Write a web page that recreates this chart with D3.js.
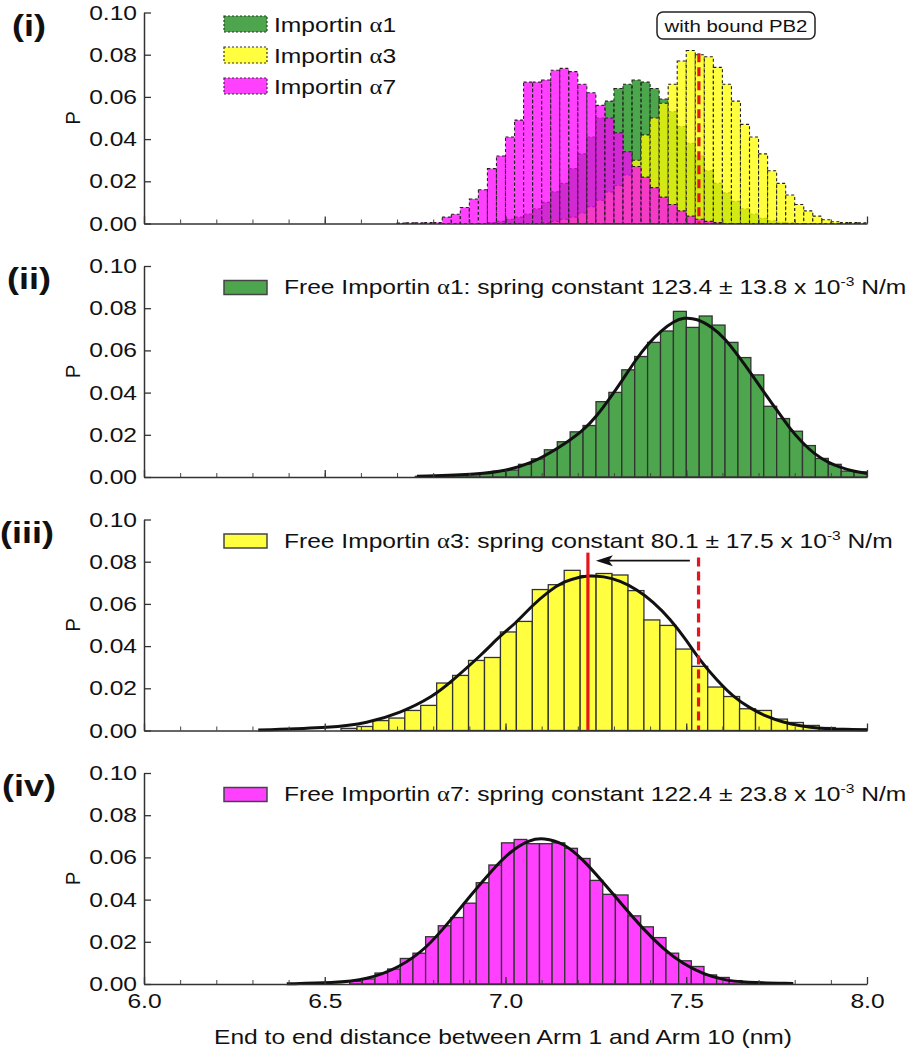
<!DOCTYPE html>
<html>
<head>
<meta charset="utf-8">
<script src="https://cdn.jsdelivr.net/npm/d3@7"></script>
<style>
  body { margin: 0; background: #fff; }
  text { font-family: "Liberation Sans", Arial, sans-serif; fill: #111; }
</style>
</head>
<body>
<div id="chart"></div>
<script>
// --------------------------------------
//  Data
// --------------------------------------

const xTicks = [6.0, 6.5, 7.0, 7.5, 8.0];
const yTicks = [0, 0.02, 0.04, 0.06, 0.08, 0.10];
const panelLabels = ["(i)", "(ii)", "(iii)", "(iv)"];
const isoforms = ["1", "3", "7"];
const springK = ["123.4", "80.1", "122.4"];
const springErr = ["13.8", "17.5", "23.8"];

// panel (i): importins with bound PB2, bins of 0.025 nm from 6.70
const boundStart = 6.70, boundWidth = 0.025;
const boundA1 = [0, 0, 0, 0, 0, 0, 0, 0, 0, 0,
  0.0005, 0.001, 0.002, 0.003, 0.0045, 0.007, 0.010, 0.015, 0.019, 0.026,
  0.033, 0.041, 0.050, 0.058, 0.064, 0.066, 0.068, 0.067, 0.064, 0.059,
  0.053, 0.046, 0.038, 0.032, 0.025, 0.019, 0.0145, 0.0105, 0.007, 0.0045,
  0.0025, 0.0013, 0.0006, 0.0003, 0, 0, 0, 0, 0, 0, 0, 0];
const boundA3 = [0, 0, 0, 0, 0, 0, 0, 0, 0, 0,
  0, 0, 0, 0, 0, 0, 0.0005, 0.001, 0.002, 0.003,
  0.005, 0.008, 0.011, 0.015, 0.018, 0.023, 0.030, 0.042, 0.050, 0.057,
  0.066, 0.077, 0.082, 0.080, 0.079, 0.074, 0.066, 0.058, 0.047, 0.041,
  0.033, 0.025, 0.019, 0.0135, 0.009, 0.006, 0.0035, 0.0018, 0.0008, 0.0005,
  0.0004, 0.0003];
const boundA7 = [0.0002, 0.0003, 0.0003, 0.0004, 0.0005, 0.003, 0.0044, 0.0076, 0.0116, 0.016,
  0.026, 0.032, 0.041, 0.049, 0.067, 0.067, 0.068, 0.0726, 0.0735, 0.072,
  0.066, 0.062, 0.056, 0.050, 0.043, 0.034, 0.027, 0.022, 0.017, 0.0125,
  0.009, 0.006, 0.0035, 0.002, 0.001, 0.0005, 0, 0, 0, 0,
  0, 0, 0, 0, 0, 0, 0, 0, 0, 0, 0, 0];
const pb2Line = 7.535, pb2Top = 0.0807;

// panel (ii): free importin a1
const freeA1Start = 6.7505, freeA1Width = 0.0357;
const freeA1 = [0.0003, 0.0005, 0.0007, 0.0010, 0.0012,
  0.0017, 0.0027, 0.0033, 0.0060, 0.0086, 0.0129, 0.0167, 0.0214, 0.0244, 0.0357,
  0.0401, 0.0508, 0.0571, 0.0638, 0.0692, 0.0785, 0.0709, 0.0763, 0.0720, 0.0638,
  0.0566, 0.0484, 0.0335, 0.0277, 0.0217, 0.0149, 0.0088, 0.0060, 0.0028, 0.0024];
const fitA1 = [[6.755, 0.0003], [6.930, 0.0013], [7.003, 0.0031], [7.068, 0.0062], [7.146, 0.0135],
  [7.217, 0.0222], [7.252, 0.0288], [7.289, 0.0374], [7.324, 0.0460], [7.360, 0.0555],
  [7.395, 0.0633], [7.432, 0.0696], [7.467, 0.0739], [7.492, 0.0755], [7.529, 0.0752],
  [7.573, 0.0709], [7.607, 0.0657], [7.644, 0.0574], [7.679, 0.0492], [7.713, 0.0406],
  [7.750, 0.0319], [7.785, 0.0233], [7.821, 0.0162], [7.856, 0.0107], [7.893, 0.0068],
  [7.928, 0.0044], [7.962, 0.0028], [8.000, 0.0017]];

// panel (iii): free importin a3
const freeA3Start = 6.545, freeA3Width = 0.0441;
const freeA3 = [0.0010, 0.0019, 0.0047, 0.0059, 0.0095, 0.0119, 0.0225, 0.0261, 0.0332, 0.0346,
  0.0467, 0.0517, 0.0668, 0.0691, 0.0759, 0.0734, 0.0744, 0.0737, 0.0663, 0.0524,
  0.0498, 0.0386, 0.0304, 0.0206, 0.0161, 0.0103, 0.0095, 0.0054, 0.0038, 0.0024,
  0.0014, 0.0009, 0.0006];
const fitA3 = [[6.316, 0.0002], [6.524, 0.0013], [6.616, 0.0035], [6.708, 0.0082], [6.800, 0.0161],
  [6.851, 0.0233], [6.939, 0.0367], [6.983, 0.0446], [7.029, 0.0509], [7.072, 0.0589],
  [7.119, 0.0660], [7.162, 0.0707], [7.206, 0.0728], [7.229, 0.0734], [7.271, 0.0731],
  [7.317, 0.0710], [7.363, 0.0669], [7.409, 0.0610], [7.455, 0.0530], [7.501, 0.0427],
  [7.538, 0.0332], [7.584, 0.0240], [7.630, 0.0160], [7.676, 0.0106], [7.722, 0.0066],
  [7.769, 0.0038], [7.815, 0.0022], [7.870, 0.0010], [7.935, 0.0005], [8.000, 0.0003]];
const freeLine = 7.228, freeTop = 0.0843;
const boundLine = 7.534, boundTop = 0.082;
const shiftArrow = [7.51, 7.25], shiftArrowP = 0.0805;

// panel (iv): free importin a7
const freeA7Start = 6.569, freeA7Width = 0.0350;
const freeA7 = [0.0013, 0.0024, 0.0052, 0.0071, 0.0121, 0.0146, 0.0224, 0.0276, 0.0315, 0.0383,
  0.0480, 0.0564, 0.0669, 0.0685, 0.0665, 0.0665, 0.0669, 0.0643, 0.0595, 0.0491,
  0.0425, 0.0422, 0.0323, 0.0271, 0.0220, 0.0146, 0.0110, 0.0083, 0.0043, 0.0031,
  0.0016, 0.0008, 0.0005, 0.0004, 0.0003];
const fitA7 = [[6.395, 0.0001], [6.524, 0.0005], [6.616, 0.0020], [6.708, 0.0079], [6.782, 0.0170],
  [6.847, 0.0300], [6.902, 0.0417], [6.957, 0.0528], [7.013, 0.0630], [7.068, 0.0685],
  [7.105, 0.0693], [7.160, 0.0669], [7.215, 0.0590], [7.271, 0.0480], [7.326, 0.0370],
  [7.381, 0.0260], [7.437, 0.0165], [7.492, 0.0094], [7.547, 0.0047], [7.603, 0.0019],
  [7.658, 0.0008], [7.796, 0.0002]];

// --------------------------------------
//  Canvas
// --------------------------------------

const width = 915, height = 1050;
const SX = 1.2;          // horizontal stretch of the lettering
const fontSize = 20.5;
const panelH = 211, panelStep = 253.5, firstTop = 12.5;
const labelX = [12, 7, 0, 2];

const colors = {
  a1: "#4da64d", a3: "#ffff40", a7: "#ff40ff",
  a1Base: "rgb(0,128,0)", a3Base: "rgb(255,255,0)", a7Base: "rgb(255,0,255)"
};

const svg = d3.select("#chart")
  .append("svg")
    .attr("width", width)
    .attr("height", height);

const x = d3.scaleLinear()
    .domain([6, 8])
    .range([144, 867]);

function stretched(g, px, py, anchor, size, sx = SX) {
  return g.append("text")
    .attr("transform", `translate(${px},${py}) scale(${sx},1)`)
    .attr("text-anchor", anchor)
    .attr("font-size", size);
}

function drawBars(g, y, start, w, values, fill, opts) {
  g.append("g")
    .selectAll("rect")
    .data(values.map((v, i) => ({v, i})).filter(d => d.v > 0))
    .join("rect")
      .attr("x", d => x(start + d.i * w))
      .attr("width", d => x(start + (d.i + 1) * w) - x(start + d.i * w))
      .attr("y", d => y(d.v))
      .attr("height", d => y(0) - y(d.v))
      .attr("fill", fill)
      .attr("fill-opacity", opts.opacity || 1)
      .attr("stroke", opts.stroke)
      .attr("stroke-width", opts.strokeWidth)
      .attr("stroke-dasharray", opts.dash || null);
}

function legendEntry(g, px, py, iso, k, err) {
  const t = stretched(g, px, py, "start", fontSize);
  t.append("tspan").text("Free Importin ");
  t.append("tspan").attr("font-family", "Liberation Serif, DejaVu Serif, serif").text("\u03b1");
  t.append("tspan").text(`${iso}: spring constant ${k} \u00b1 ${err} x 10`);
  t.append("tspan").attr("font-size", 13).attr("dy", -8).text("-3");
  t.append("tspan").attr("dy", 8).text(" N/m");
}

const fitLine = d3.line().curve(d3.curveBasis);

// --------------------------------------
//  Panels
// --------------------------------------

panelLabels.forEach((lab, k) => {
  const top = firstTop + k * panelStep;
  const y = d3.scaleLinear().domain([0, 0.1]).range([top + panelH, top]);
  const g = svg.append("g");

  // data marks
  if (k === 0) {
    drawBars(g, y, boundStart, boundWidth, boundA1, colors.a1Base,
      {opacity: 0.7, stroke: "#222", strokeWidth: 1.1, dash: "3,2.5"});
    drawBars(g, y, boundStart, boundWidth, boundA3, colors.a3Base,
      {opacity: 0.75, stroke: "#222", strokeWidth: 1.1, dash: "3,2.5"});
    drawBars(g, y, boundStart, boundWidth, boundA7, colors.a7Base,
      {opacity: 0.75, stroke: "#222", strokeWidth: 1.1, dash: "3,2.5"});
    g.append("line")
      .attr("x1", x(pb2Line)).attr("x2", x(pb2Line))
      .attr("y1", y(pb2Top)).attr("y2", y(0))
      .attr("stroke", "#e8141c").attr("stroke-width", 3.2)
      .attr("stroke-dasharray", "9,5");
  } else {
    const sets = [
      [freeA1Start, freeA1Width, freeA1, colors.a1, fitA1],
      [freeA3Start, freeA3Width, freeA3, colors.a3, fitA3],
      [freeA7Start, freeA7Width, freeA7, colors.a7, fitA7]
    ][k - 1];
    drawBars(g, y, sets[0], sets[1], sets[2], sets[3], {stroke: "#333", strokeWidth: 1.3});
    g.append("path")
      .attr("d", fitLine.x(d => x(d[0])).y(d => y(d[1]))(sets[4]))
      .attr("fill", "none")
      .attr("stroke", "#111")
      .attr("stroke-width", 3);
  }

  if (k === 2) {
    g.append("line")
      .attr("x1", x(freeLine)).attr("x2", x(freeLine))
      .attr("y1", y(freeTop)).attr("y2", y(0))
      .attr("stroke", "#e8141c").attr("stroke-width", 3.2);
    g.append("line")
      .attr("x1", x(boundLine)).attr("x2", x(boundLine))
      .attr("y1", y(boundTop)).attr("y2", y(0))
      .attr("stroke", "#e8141c").attr("stroke-width", 3.2)
      .attr("stroke-dasharray", "9,5");
    const ax0 = x(shiftArrow[0]), ax1 = x(shiftArrow[1]), ay = y(shiftArrowP);
    g.append("line")
      .attr("x1", ax0).attr("x2", ax1 + 12)
      .attr("y1", ay).attr("y2", ay)
      .attr("stroke", "#111").attr("stroke-width", 1.6);
    g.append("path")
      .attr("d", `M${ax1},${ay} L${ax1 + 17},${ay - 5.5} L${ax1 + 13},${ay} L${ax1 + 17},${ay + 5.5} Z`)
      .attr("fill", "#111");
  }

  // axes
  const yAxis = g.append("g")
    .attr("transform", `translate(${x(6)},0)`)
    .attr("color", "#333")
    .call(d3.axisLeft(y).tickValues(yTicks).tickSize(-7).tickSizeOuter(0)
      .tickPadding(7).tickFormat(d3.format(".2f")));
  yAxis.select(".domain").attr("stroke-width", 1.5);
  yAxis.selectAll(".tick line").attr("stroke-width", 1.3);
  yAxis.selectAll("text")
    .attr("x", null)
    .attr("transform", `translate(-7,0) scale(${SX},1)`)
    .attr("font-size", fontSize)
    .attr("font-family", "Liberation Sans, Arial, sans-serif")
    .attr("fill", "#111");

  const minor = g.append("g")
    .attr("transform", `translate(0,${y(0)})`)
    .attr("color", "#444")
    .call(d3.axisBottom(x).ticks(20).tickSize(-4).tickFormat(""));
  minor.select(".domain").remove();

  const xAxis = g.append("g")
    .attr("transform", `translate(0,${y(0)})`)
    .attr("color", "#333")
    .call(d3.axisBottom(x).tickValues(xTicks).tickSize(-7).tickSizeOuter(0)
      .tickPadding(9.5).tickFormat(k === 3 ? d3.format(".1f") : () => ""));
  xAxis.select(".domain").attr("stroke-width", 1.5);
  xAxis.selectAll(".tick line").attr("stroke-width", 1.3);
  xAxis.selectAll("text")
    .attr("transform", `scale(${SX},1)`)
    .attr("x", function() { return 0; })
    .attr("font-size", fontSize)
    .attr("font-family", "Liberation Sans, Arial, sans-serif")
    .attr("fill", "#111");

  // y label
  g.append("text")
    .attr("transform", `translate(80,${top + panelH / 2}) rotate(-90)`)
    .attr("text-anchor", "middle")
    .attr("font-size", fontSize)
    .text("P");

  // panel label
  stretched(g, labelX[k], top + 23, "start", 30)
    .attr("font-weight", "bold")
    .text(lab);

  // legends
  if (k === 0) {
    const base = [colors.a1, colors.a3, colors.a7];
    isoforms.forEach((iso, j) => {
      g.append("rect")
        .attr("x", 224).attr("y", top + 3.5 + j * 31)
        .attr("width", 43).attr("height", 16)
        .attr("fill", base[j])
        .attr("stroke", "#333").attr("stroke-width", 1.2)
        .attr("stroke-dasharray", "2,2");
      const t = stretched(g, 274, top + 19 + j * 31, "start", fontSize);
      t.append("tspan").text("Importin ");
      t.append("tspan").attr("font-family", "Liberation Serif, DejaVu Serif, serif").text("\u03b1");
      t.append("tspan").text(iso);
    });
    g.append("rect")
      .attr("x", 657).attr("y", top - 0.5)
      .attr("width", 158).attr("height", 27).attr("rx", 6)
      .attr("fill", "#fff").attr("stroke", "#222").attr("stroke-width", 1.5);
    stretched(g, 736, top + 19, "middle", 17).text("with bound PB2");
  } else {
    const fill = [colors.a1, colors.a3, colors.a7][k - 1];
    g.append("rect")
      .attr("x", 224).attr("y", top + 14.5)
      .attr("width", 43).attr("height", 14)
      .attr("fill", fill)
      .attr("stroke", "#444").attr("stroke-width", 1.5);
    legendEntry(g, 284, top + 28, isoforms[k - 1], springK[k - 1], springErr[k - 1]);
  }
});

// x title
stretched(svg, 503, 1044, "middle", fontSize)
  .text("End to end distance between Arm 1 and Arm 10 (nm)");
</script>
</body>
</html>
